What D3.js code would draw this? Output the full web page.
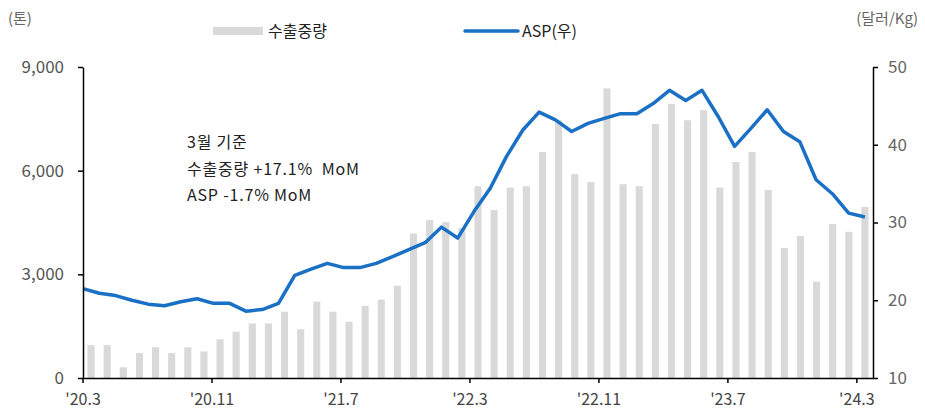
<!DOCTYPE html>
<html>
<head>
<meta charset="utf-8">
<script src="https://cdn.jsdelivr.net/npm/d3@7"></script>
<style>
  body { margin: 0; background: #fff; }
  text { font-family: "Noto Sans CJK KR", "Noto Sans", sans-serif; }
</style>
</head>
<body>
<svg id="chart"></svg>
<script>
// monthly data, '20.3 ~ '24.3
var months = [];
for (var yy = 20; yy <= 24; yy++) {
  for (var mm = 1; mm <= 12; mm++) {
    if ((yy == 20 && mm < 3) || (yy == 24 && mm > 3)) continue;
    months.push("'" + yy + "." + mm);
  }
}
var tickLabels = ["'20.3", "'20.11", "'21.7", "'22.3", "'22.11", "'23.7", "'24.3"];

// 수출중량 (톤)
var volume = [950, 950, 310, 720, 890, 720, 890, 770, 1120, 1340, 1580, 1580, 1920, 1410, 2210,
  1920, 1630, 2090, 2270, 2670, 4180, 4570, 4510, 4340, 5550, 4860, 5510, 5550, 6540, 7460,
  5900, 5670, 8380, 5610, 5550, 7350, 7930, 7460, 7750, 5510, 6250, 6540, 5440, 3760, 4110,
  2790, 4460, 4230, 4950];

// ASP (달러/Kg)
var asp = [21.5, 20.9, 20.6, 20.0, 19.5, 19.3, 19.8, 20.2, 19.6, 19.6, 18.6, 18.8, 19.6, 23.2, 24.0,
  24.75, 24.2, 24.2, 24.75, 25.6, 26.5, 27.4, 29.4, 28.0, 31.4, 34.4, 38.5, 41.9, 44.2, 43.2,
  41.7, 42.75, 43.4, 44.0, 44.0, 45.3, 47.0, 45.7, 47.0, 43.6, 39.8, 42.1, 44.5, 41.7, 40.4,
  35.5, 33.7, 31.2, 30.7];

var leftTicks = [0, 3000, 6000, 9000];
var rightTicks = [10, 20, 30, 40, 50];

var margin = {top: 67, right: 52, bottom: 35, left: 83},
width = 925 - margin.left - margin.right,
height = 413 - margin.top - margin.bottom;

var svg = d3.select("#chart")
.attr("width", 925)
.attr("height", 413);

var g = svg.append("g")
.attr("transform", "translate(" + margin.left + "," + margin.top + ")");

var x = d3.scaleBand()
.domain(months)
.range([0, width])
.paddingInner(0.56)
.paddingOuter(0.28);

var step = width / months.length;
// line runs from the axis to the last bar's centre
var xLine = d3.scalePoint()
.domain(months)
.range([0, width - step / 2]);

var yL = d3.scaleLinear().domain([0, 9000]).range([height, 0]);
var yR = d3.scaleLinear().domain([10, 50]).range([height, 0]);

// bars
g.selectAll("rect.bar")
  .data(volume)
  .enter()
  .append("rect")
  .attr("class", "bar")
  .attr("x", function(d, i) { return x(months[i]); })
  .attr("width", x.bandwidth())
  .attr("y", function(d) { return yL(d); })
  .attr("height", function(d) { return height - yL(d); })
  .attr("fill", "#d9d9d9");

// line
var line = d3.line()
  .x(function(d, i) { return xLine(months[i]); })
  .y(function(d) { return yR(d); });

g.append("path")
  .datum(asp)
  .attr("d", line)
  .attr("fill", "none")
  .attr("stroke", "#1a70c4")
  .attr("stroke-width", 3.5)
  .attr("stroke-linejoin", "round");

// axes
var xAxis = d3.axisBottom(x)
  .tickValues(tickLabels)
  .tickSize(5)
  .tickSizeOuter(0);
var gx = g.append("g")
  .attr("transform", "translate(0," + height + ")")
  .call(xAxis);
// ticks sit between categories
gx.selectAll(".tick").attr("transform", function(d) {
  return "translate(" + (months.indexOf(d) * step) + ",0)";
});
gx.selectAll(".tick text")
  .attr("dy", "1.2em")
  .style("font-size", "16px")
  .style("fill", "#444");

var gyL = g.append("g")
  .call(d3.axisLeft(yL).tickValues(leftTicks).tickFormat(d3.format(",")).tickSize(5).tickSizeOuter(0));
gyL.selectAll(".tick text")
  .attr("x", -19)
  .style("font-size", "17px")
  .style("fill", "#555");

var gyR = g.append("g")
  .attr("transform", "translate(" + width + ",0)")
  .call(d3.axisRight(yR).tickValues(rightTicks).tickSize(5).tickSizeOuter(0));
gyR.selectAll(".tick text")
  .attr("x", 15)
  .style("font-size", "17px")
  .style("fill", "#666");

svg.selectAll(".domain, .tick line").attr("stroke", "#000").attr("stroke-width", 1.5);

// unit labels
svg.append("text").attr("x", 8).attr("y", 24).text("(톤)")
  .style("font-size", "15px").style("fill", "#666");
svg.append("text").attr("x", 918).attr("y", 24).attr("text-anchor", "end").text("(달러/Kg)")
  .style("font-size", "15px").style("fill", "#666");

// legend
svg.append("rect").attr("x", 213).attr("y", 27).attr("width", 50).attr("height", 8).attr("fill", "#d9d9d9");
svg.append("text").attr("x", 268).attr("y", 37).text("수출중량")
  .style("font-size", "16px").style("fill", "#222");
svg.append("line").attr("x1", 465).attr("x2", 518).attr("y1", 31).attr("y2", 31)
  .attr("stroke", "#1a70c4").attr("stroke-width", 3.5).attr("stroke-linecap", "round");
svg.append("text").attr("x", 522).attr("y", 37).text("ASP(우)")
  .style("font-size", "16px").style("fill", "#222");

// annotation
var notes = ["3월 기준", "수출중량 +17.1%  MoM", "ASP -1.7% MoM"];
svg.selectAll("text.note")
  .data(notes)
  .enter()
  .append("text")
  .attr("class", "note")
  .attr("x", 187)
  .attr("y", function(d, i) { return 148 + i * 26.5; })
  .attr("xml:space", "preserve")
  .text(function(d) { return d; })
  .style("font-size", "16px")
  .style("letter-spacing", "0.8px")
  .style("white-space", "pre")
  .style("fill", "#222");
</script>
</body>
</html>
